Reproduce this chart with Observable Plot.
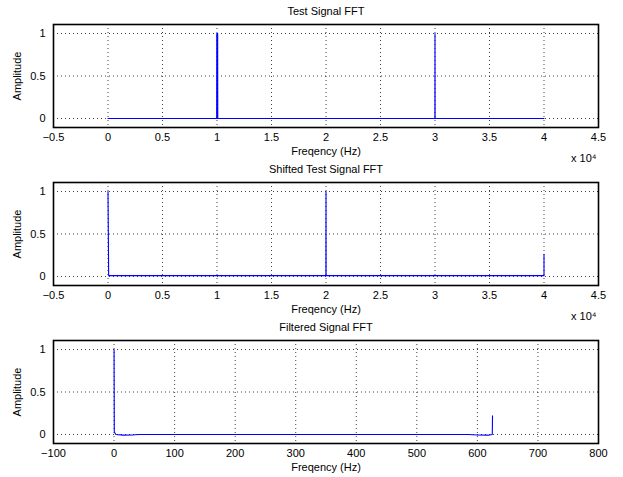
<!DOCTYPE html>
<html><head><meta charset="utf-8">
<script src="https://cdn.jsdelivr.net/npm/d3@7"></script>
<script src="https://cdn.jsdelivr.net/npm/@observablehq/plot@0.6"></script>
<style>
body{margin:0;background:#fff;}
#chart svg{display:block;}
</style></head><body><div id="chart"></div>
<script>
// ---- data ----
const titles = ["Test Signal FFT", "Shifted Test Signal FFT", "Filtered Signal FFT"];
const xLabel = "Freqency (Hz)";
const yLabel = "Amplitude";
const exponentLabel = "x 10\u2074";
const yTicks = [0, 0.5, 1];
const xTicksHz4 = [-5000, 0, 5000, 10000, 15000, 20000, 25000, 30000, 35000, 40000, 45000];
const xTicksHz = [-100, 0, 100, 200, 300, 400, 500, 600, 700, 800];

// Test signal FFT
const testFreq = [0, 9970, 9980, 10060, 10070, 29990, 30000, 30010, 40000];
const testAmp  = [0, 0,    1,    1,     0,     0,     1,     0,     0];

// Shifted test signal FFT
const shiftFreq = [0, 0,  60,   19990, 20000, 20010, 39990, 40000, 40000];
const shiftAmp  = [1, 1,  0.01, 0.01,  1,     0.01,  0.01,  0.01,  0.26];

// Filtered signal FFT
const filtFreq = [0, 0.4,  3,     15,     30,     40,  585, 600,    618,    624.6, 625];
const filtAmp  = [1, 0.03, 0.0,  -0.008, -0.006,  0.0, 0.0, -0.006, -0.008, 0.0,   0.22];

// ---- drawing ----
const fmt = d3.format("~g");
const font = "'Liberation Sans', Arial, Helvetica, sans-serif";

function panel({title, freq, amp, xDomain, xTicks, xFormat, exponent, height, marginBottom}) {
  const data = freq.map((f, i) => ({f, a: amp[i]}));
  const gridStyle = {stroke: "black", strokeOpacity: 0.75, strokeDasharray: "1,3", strokeWidth: 1};
  return Plot.plot({
    width: 623, height,
    marginLeft: 53, marginRight: 25, marginTop: 24, marginBottom,
    style: {fontFamily: font, fontSize: "11px", color: "black", background: "white", overflow: "visible"},
    x: {domain: xDomain},
    y: {domain: [-0.106, 1.106]},
    marks: [
      Plot.gridX(xTicks, gridStyle),
      Plot.gridY(yTicks, gridStyle),
      Plot.line(data, {x: "f", y: "a", stroke: "#0000ff", strokeWidth: 1.1}),
      Plot.frame({stroke: "black", strokeWidth: 1.6}),
      Plot.axisX(xTicks, {tickSize: 0, tickPadding: 6, tickFormat: xFormat, fontSize: 11,
        label: xLabel, labelAnchor: "center", labelArrow: "none", labelOffset: 27}),
      Plot.axisY(yTicks, {tickSize: 0, tickPadding: 8, tickFormat: fmt, fontSize: 11,
        label: yLabel, labelAnchor: "center", labelArrow: "none", labelOffset: 40}),
      Plot.text([title], {frameAnchor: "top", dy: -13, fontSize: 11, lineAnchor: "middle"}),
      exponent ? Plot.text([exponent], {frameAnchor: "bottom-right", dx: -2, dy: 31, fontSize: 11, lineAnchor: "middle", textAnchor: "end"}) : null
    ]
  });
}

const root = document.getElementById("chart");
root.append(panel({title: titles[0], freq: testFreq, amp: testAmp, xDomain: [-5000, 45000],
  xTicks: xTicksHz4, xFormat: d => fmt(d / 1e4), exponent: exponentLabel, height: 158, marginBottom: 31}));
root.append(panel({title: titles[1], freq: shiftFreq, amp: shiftAmp, xDomain: [-5000, 45000],
  xTicks: xTicksHz4, xFormat: d => fmt(d / 1e4), exponent: exponentLabel, height: 158, marginBottom: 31}));
root.append(panel({title: titles[2], freq: filtFreq, amp: filtAmp, xDomain: [-100, 800],
  xTicks: xTicksHz, xFormat: fmt, exponent: null, height: 161, marginBottom: 34}));
</script>
</body></html>
